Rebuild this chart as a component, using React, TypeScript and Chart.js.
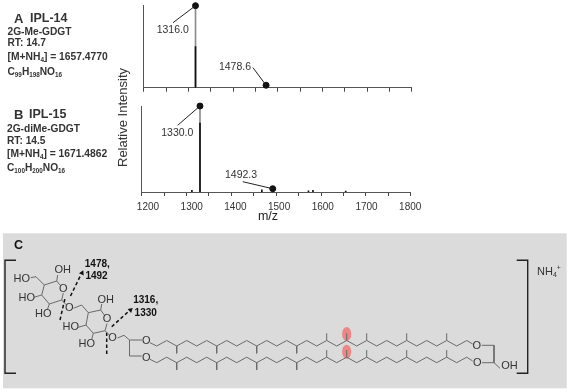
import React, { useEffect, useRef } from "react";
import { Chart, registerables } from "chart.js";

Chart.register(...registerables);

// ---------- spectrum data ----------
const mzTicks = [1200, 1300, 1400, 1500, 1600, 1700, 1800];

const peaksA_full = [{ x: 1316, y: 100 }, { x: 1474, y: 3 }];
const peaksA_core = [{ x: 1316, y: 50 }];
const markersA = [{ x: 1316, y: 100 }, { x: 1474, y: 3 }];
const leadersA = [
  [{ x: 1316, y: 100 }, { x: 1265.6, y: 79.3 }],
  [{ x: 1474, y: 3 }, { x: 1444.7, y: 24.4 }],
];
const labelsA = [
  { text: "1316.0", x: 1264.9, y: 70.4 },
  { text: "1478.6", x: 1404.4, y: 25.6 },
];

const peaksB_full = [{ x: 1330, y: 100 }, { x: 1492.3, y: 3.8 }];
const peaksB_core = [
  { x: 1330, y: 80 },
  { x: 1312, y: 2 },
  { x: 1468, y: 2.5 },
  { x: 1572, y: 1.5 },
  { x: 1582, y: 2 },
  { x: 1655, y: 1 },
];
const markersB = [{ x: 1330, y: 100 }, { x: 1492.3, y: 3.8 }];
const leadersB = [
  [{ x: 1330, y: 100 }, { x: 1280.3, y: 77.6 }],
  [{ x: 1492.3, y: 3.8 }, { x: 1425.3, y: 12 }],
];
const labelsB = [
  { text: "1330.0", x: 1279.4, y: 69 },
  { text: "1492.3", x: 1421.5, y: 19.8 },
];

// ---------- structure diagram (diagram units = 570 x 392 frame) ----------
const chainX = [156.7, 166.7, 176.7, 186.7, 196.7, 206.7, 216.7, 226.7, 236.7, 246.7, 256.7, 266.7, 276.7, 286.7, 296.7, 306.7, 316.7, 326.7, 336.7, 346.7, 356.7, 366.7, 376.7, 386.7, 396.7, 406.7, 416.7, 426.7, 436.7, 446.7, 456.7, 466.7];
const chainTopY = [346, 340.5, 346, 340.5, 346, 340.5, 346, 340.5, 346, 340.5, 346, 340.5, 346, 340.5, 346, 340.5, 346, 340.5, 346, 340.5, 346, 340.5, 346, 340.5, 346, 340.5, 346, 340.5, 346, 340.5, 346, 340.5];
const chainBottomY = [362.7, 357.2, 362.7, 357.2, 362.7, 357.2, 362.7, 357.2, 362.7, 357.2, 362.7, 357.2, 362.7, 357.2, 362.7, 357.2, 362.7, 357.2, 362.7, 357.2, 362.7, 357.2, 362.7, 357.2, 362.7, 357.2, 362.7, 357.2, 362.7, 357.2, 362.7, 357.2];
const branchDownX = [176.7, 216.7, 256.7, 296.7];
const branchUpX = [326.7, 346.7, 366.7, 406.7, 446.7];

const thinBonds: number[][] = [
  // sugar 1
  [56.7, 281, 44.3, 285, 41.7, 295, 49.3, 304, 61.7, 300, 63.3, 293],
  [56.7, 281, 60, 285],
  [56.7, 281, 57.7, 275],
  [30.7, 277.7, 36, 276.7, 44.3, 285],
  [34, 297.3, 41.7, 295],
  [49.3, 304, 47.3, 310],
  [61.7, 300, 66, 304.5],
  // sugar 2
  [88.3, 312.7, 100.7, 310, 104.3, 315],
  [107, 323.5, 105, 330.7, 93.3, 333.3, 86, 325, 88.3, 312.7],
  [100.7, 310, 101.7, 304],
  [78.3, 327.3, 86, 325],
  [93.3, 333.3, 91.7, 339.3],
  [105, 330.7, 109.3, 335],
  [88.3, 312.7, 81.7, 305, 73.3, 308.3],
  // left glycerol
  [117.5, 338, 124, 335.3, 129.5, 340, 142, 340],
  [129.5, 340, 129.5, 356, 141.7, 356],
  [150, 342.7, 156.7, 346],
  [150, 359.3, 156.7, 362.7],
  // right glycerol
  [466.7, 340.5, 472.7, 344],
  [466.7, 357.2, 472.7, 361],
  [481.7, 345.3, 494, 345.3, 494, 362.7, 482, 362.7],
  [494, 362.7, 500, 368.3],
];
const brackets: number[][] = [
  [16, 260.3, 5, 260.3, 5, 373.3, 16, 373.3],
  [516.7, 260.3, 527.7, 260.3, 527.7, 373.3, 516.7, 373.3],
];
const cleavages: number[][] = [
  [60, 320, 65, 298.3],
  [70.5, 296, 81, 274.5],
  [106.7, 354, 106.7, 331.7],
  [111.7, 326.7, 128.5, 311.5],
];
const arrowTips = [
  { x: 82, y: 273, rotation: 25 },
  { x: 130.5, y: 310, rotation: 48 },
];
const methylHighlights = [
  { x: 346.7, y: 334 },
  { x: 346.7, y: 351.7 },
];

type Seg = { t: string; sub?: boolean; sup?: boolean };
type Txt = { segs: Seg[]; x: number; y: number; size: number; bold?: boolean; align?: CanvasTextAlign; rot?: number; color?: string };
const s = (t: string): Seg => ({ t });
const sub = (t: string): Seg => ({ t, sub: true });
const sup = (t: string): Seg => ({ t, sup: true });

const headerTexts: Txt[] = [
  { segs: [s("A")], x: 14, y: 19, size: 13, bold: true },
  { segs: [s("IPL-14")], x: 30, y: 19, size: 12.5, bold: true },
  { segs: [s("2G-Me-GDGT")], x: 7.5, y: 32, size: 10.2, bold: true },
  { segs: [s("RT: 14.7")], x: 7.5, y: 43.5, size: 10.2, bold: true },
  { segs: [s("[M+NH"), sub("4"), s("] = 1657.4770")], x: 7.5, y: 57.5, size: 10.3, bold: true },
  { segs: [s("C"), sub("99"), s("H"), sub("198"), s("NO"), sub("16")], x: 7.5, y: 71.7, size: 10.2, bold: true },
  { segs: [s("B")], x: 14, y: 115, size: 13, bold: true },
  { segs: [s("IPL-15")], x: 29, y: 115, size: 12.5, bold: true },
  { segs: [s("2G-diMe-GDGT")], x: 7, y: 129, size: 10.2, bold: true },
  { segs: [s("RT: 14.5")], x: 7, y: 141.3, size: 10.2, bold: true },
  { segs: [s("[M+NH"), sub("4"), s("] = 1671.4862")], x: 7, y: 154, size: 10.3, bold: true },
  { segs: [s("C"), sub("100"), s("H"), sub("200"), s("NO"), sub("16")], x: 7, y: 167.7, size: 10.2, bold: true },
  { segs: [s("Relative Intensity")], x: 123, y: 117.5, size: 13, align: "center", rot: -90, color: "#333" },
  { segs: [s("m/z")], x: 268, y: 217, size: 12.5, align: "center", color: "#222" },
];
const atomTexts: Txt[] = [
  { segs: [s("C")], x: 14, y: 245.7, size: 12.5, bold: true, color: "#111" },
  { segs: [s("1478,")], x: 97.3, y: 264.3, size: 10, bold: true, align: "center", color: "#111" },
  { segs: [s("1492")], x: 96.5, y: 276.7, size: 10, bold: true, align: "center", color: "#111" },
  { segs: [s("1316,")], x: 145.7, y: 300.7, size: 10, bold: true, align: "center", color: "#111" },
  { segs: [s("1330")], x: 145.7, y: 313.3, size: 10, bold: true, align: "center", color: "#111" },
  { segs: [s("OH")], x: 62.7, y: 269.5, size: 11, align: "center" },
  { segs: [s("HO")], x: 21.7, y: 279, size: 11, align: "center" },
  { segs: [s("HO")], x: 26.7, y: 298.3, size: 11, align: "center" },
  { segs: [s("HO")], x: 43.3, y: 314.3, size: 11, align: "center" },
  { segs: [s("O")], x: 63.3, y: 288.5, size: 11, align: "center" },
  { segs: [s("O")], x: 69.3, y: 308.3, size: 11, align: "center" },
  { segs: [s("OH")], x: 105.7, y: 299.5, size: 11, align: "center" },
  { segs: [s("HO")], x: 70.7, y: 327.3, size: 11, align: "center" },
  { segs: [s("HO")], x: 86.7, y: 343.5, size: 11, align: "center" },
  { segs: [s("O")], x: 107, y: 319, size: 11, align: "center" },
  { segs: [s("O")], x: 112.5, y: 338, size: 11, align: "center" },
  { segs: [s("O")], x: 146.3, y: 340.5, size: 11, align: "center" },
  { segs: [s("O")], x: 146.3, y: 357.5, size: 11, align: "center" },
  { segs: [s("O")], x: 476.7, y: 345.5, size: 11, align: "center" },
  { segs: [s("O")], x: 477.3, y: 362.7, size: 11, align: "center" },
  { segs: [s("OH")], x: 509.5, y: 366, size: 11, align: "center" },
  { segs: [s("NH"), sub("4"), sup("+")], x: 537, y: 271.7, size: 11 },
];

const FONT = '"Liberation Sans", Arial, sans-serif';

function drawTexts(ctx: CanvasRenderingContext2D, texts: Txt[], px: (v: number) => number, py: (v: number) => number) {
  for (const t of texts) {
    ctx.save();
    ctx.translate(px(t.x), py(t.y));
    if (t.rot) ctx.rotate((t.rot * Math.PI) / 180);
    ctx.fillStyle = t.color || "#333";
    ctx.textBaseline = "middle";
    const weight = t.bold ? "bold " : "";
    const fontFor = (sg: Seg) => `${weight}${sg.sub || sg.sup ? t.size * 0.62 : t.size}px ${FONT}`;
    let total = 0;
    for (const sg of t.segs) {
      ctx.font = fontFor(sg);
      total += ctx.measureText(sg.t).width;
    }
    let cx = t.align === "center" ? -total / 2 : 0;
    ctx.textAlign = "left";
    for (const sg of t.segs) {
      ctx.font = fontFor(sg);
      const dy = sg.sub ? t.size * 0.3 : sg.sup ? -t.size * 0.3 : 0;
      ctx.fillText(sg.t, cx, dy);
      if (!sg.sup) cx += ctx.measureText(sg.t).width;
    }
    ctx.restore();
  }
}

const toPts = (flat: number[]) => {
  const out: { x: number; y: number }[] = [];
  for (let i = 0; i < flat.length; i += 2) out.push({ x: flat[i], y: flat[i + 1] });
  return out;
};
const lineDs = (data: { x: number; y: number }[], color: string, width: number, dash: number[] = []) => ({
  type: "line" as const,
  data,
  borderColor: color,
  borderWidth: width,
  borderDash: dash,
  pointRadius: 0,
  tension: 0,
  fill: false,
  parsing: false as const,
  clip: false as const,
});

const BOND = "#6a6a6a";

function diagramConfig(): any {
  const datasets: any[] = [];
  datasets.push(lineDs(chainX.map((x, i) => ({ x, y: chainTopY[i] })), BOND, 1));
  datasets.push(lineDs(chainX.map((x, i) => ({ x, y: chainBottomY[i] })), BOND, 1));
  for (const x of branchDownX) {
    datasets.push(lineDs([{ x, y: 346 }, { x, y: 353.3 }], BOND, 1));
    datasets.push(lineDs([{ x, y: 362.7 }, { x, y: 370 }], BOND, 1));
  }
  for (const x of branchUpX) {
    datasets.push(lineDs([{ x, y: 340.5 }, { x, y: 333.3 }], BOND, 1));
    datasets.push(lineDs([{ x, y: 357.2 }, { x, y: 350 }], BOND, 1));
  }
  for (const b of thinBonds) datasets.push(lineDs(toPts(b), BOND, 1));
  for (const b of brackets) datasets.push(lineDs(toPts(b), "#222", 1.4));
  for (const c of cleavages) datasets.push(lineDs(toPts(c), "#111", 1.5, [3.5, 2.5]));
  datasets.push({
    type: "scatter",
    data: arrowTips.map((a) => ({ x: a.x, y: a.y })),
    pointStyle: "triangle",
    pointRadius: 3,
    pointRotation: arrowTips.map((a) => a.rotation),
    backgroundColor: "#111",
    borderColor: "#111",
    borderWidth: 0,
    clip: false,
  });
  return {
    type: "line",
    data: { datasets },
    options: {
      animation: false,
      responsive: false,
      events: [],
      layout: { padding: 0, autoPadding: false },
      plugins: { legend: { display: false }, tooltip: { enabled: false } },
      scales: {
        x: { type: "linear", min: 0, max: 570, display: false },
        y: { type: "linear", min: 0, max: 392, reverse: true, display: false },
      },
    },
    plugins: [
      {
        id: "panel",
        beforeDatasetsDraw(chart: any) {
          const { ctx, scales } = chart;
          const px = (v: number) => scales.x.getPixelForValue(v);
          const py = (v: number) => scales.y.getPixelForValue(v);
          ctx.save();
          ctx.fillStyle = "#dbdbdb";
          ctx.fillRect(px(3), py(233.3), px(566.7) - px(3), py(388.3) - py(233.3));
          ctx.fillStyle = "rgba(238,120,120,0.85)";
          for (const m of methylHighlights) {
            ctx.beginPath();
            ctx.ellipse(px(m.x), py(m.y), 4.6, 7, 0, 0, Math.PI * 2);
            ctx.fill();
          }
          ctx.restore();
        },
        afterDatasetsDraw(chart: any) {
          const { ctx, scales } = chart;
          const px = (v: number) => scales.x.getPixelForValue(v);
          const py = (v: number) => scales.y.getPixelForValue(v);
          drawTexts(ctx, headerTexts, px, py);
          drawTexts(ctx, atomTexts, px, py);
        },
      },
    ],
  };
}

function spectrumConfig(p: {
  full: any[];
  core: any[];
  markers: any[];
  leaders: any[][];
  labels: { text: string; x: number; y: number }[];
  labelAxis?: { min: number; max: number; height: number };
  left: number;
  bottomHeight: number;
  top: number;
  right: number;
}): any {
  const datasets: any[] = [
    { type: "bar", data: p.core, backgroundColor: "#111", barThickness: 1, grouped: false, order: 1 },
    { type: "bar", data: p.full, backgroundColor: "#8c8c8c", barThickness: 1, grouped: false, order: 2 },
    ...p.leaders.map((l) => ({ ...lineDs(l, "#222", 1), order: 0 })),
    {
      type: "scatter",
      data: p.markers,
      pointRadius: 3,
      backgroundColor: "#111",
      borderColor: "#111",
      clip: false,
      order: 0,
    },
  ];
  const scales: any = {
    x: {
      type: "linear",
      min: mzTicks[0],
      max: mzTicks[mzTicks.length - 1],
      offset: false,
      weight: 0,
      afterFit: (sc: any) => { sc.height = p.bottomHeight; },
      border: { color: "#555", width: 1 },
      grid: { display: true, offset: false, drawOnChartArea: false, drawTicks: true, tickLength: 4, color: "#444", lineWidth: 1 },
      ticks: { stepSize: 50, autoSkip: false, maxRotation: 0, callback: () => "" },
    },
    y: {
      type: "linear",
      min: 0,
      max: 100,
      afterFit: (sc: any) => { sc.width = p.left; },
      border: { color: "#555", width: 1 },
      grid: { display: false },
      ticks: { display: false },
    },
  };
  if (p.labelAxis) {
    // The printed tick numbers sit on a slightly tighter ruler than the tick marks.
    scales.xLabels = {
      type: "linear",
      position: "bottom",
      min: p.labelAxis.min,
      max: p.labelAxis.max,
      offset: false,
      weight: 1,
      afterBuildTicks: (sc: any) => { sc.ticks = mzTicks.map((value) => ({ value })); },
      afterFit: (sc: any) => { sc.height = p.labelAxis!.height; },
      border: { display: false },
      grid: { display: false, drawTicks: false },
      ticks: {
        autoSkip: false,
        maxRotation: 0,
        padding: 3,
        color: "#333",
        font: { size: 10, family: FONT },
        callback: (v: number) => String(v),
      },
    };
  }
  return {
    type: "bar",
    data: { datasets },
    options: {
      animation: false,
      responsive: false,
      events: [],
      layout: { padding: { top: p.top, right: p.right, left: 0, bottom: 0 }, autoPadding: false },
      plugins: { legend: { display: false }, tooltip: { enabled: false } },
      scales,
    },
    plugins: [
      {
        id: "peakLabels",
        afterDatasetsDraw(chart: any) {
          const { ctx, scales: sc } = chart;
          ctx.save();
          ctx.font = `10.5px ${FONT}`;
          ctx.fillStyle = "#333";
          ctx.textAlign = "center";
          ctx.textBaseline = "middle";
          for (const l of p.labels) ctx.fillText(l.text, sc.x.getPixelForValue(l.x), sc.y.getPixelForValue(l.y));
          ctx.restore();
        },
      },
    ],
  };
}

export default function App() {
  const refC = useRef<HTMLCanvasElement>(null);
  const refA = useRef<HTMLCanvasElement>(null);
  const refB = useRef<HTMLCanvasElement>(null);

  useEffect(() => {
    const c = new Chart(refC.current!, diagramConfig());
    const a = new Chart(
      refA.current!,
      spectrumConfig({
        full: peaksA_full,
        core: peaksA_core,
        markers: markersA,
        leaders: leadersA,
        labels: labelsA,
        left: 143.7,
        bottomHeight: 12.3,
        top: 5.7,
        right: 158.3,
      })
    );
    const b = new Chart(
      refB.current!,
      spectrumConfig({
        full: peaksB_full,
        core: peaksB_core,
        markers: markersB,
        leaders: leadersB,
        labels: labelsB,
        labelAxis: { min: 1185.6, max: 1801.1, height: 32 },
        left: 141.7,
        bottomHeight: 6,
        top: 6,
        right: 159.3,
      })
    );
    return () => {
      c.destroy();
      a.destroy();
      b.destroy();
    };
  }, []);

  const abs = (top: number, h: number): React.CSSProperties => ({ position: "absolute", left: 0, top, width: 570, height: h, display: "block", filter: "blur(0.35px)" });
  return (
    <div style={{ position: "absolute", left: 0, top: 0, width: 570, height: 392, overflow: "hidden", background: "#fff" }}>
      <canvas ref={refC} width={570} height={392} style={abs(0, 392)} />
      <canvas ref={refA} width={570} height={100} style={abs(0, 100)} />
      <canvas ref={refB} width={570} height={130} style={abs(100, 130)} />
    </div>
  );
}
